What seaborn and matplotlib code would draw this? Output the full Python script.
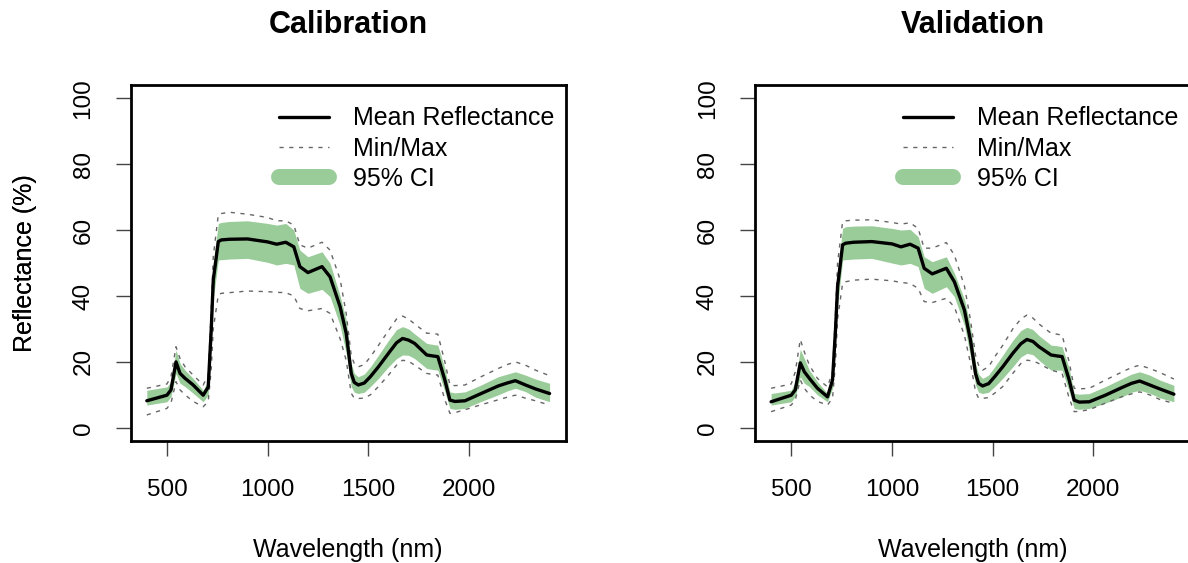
import matplotlib
matplotlib.use("Agg")
import matplotlib.pyplot as plt
from matplotlib.lines import Line2D
import pandas as pd
import seaborn as sns

# Wavelength grid shared by both spectra (nm)
wavelength = [400, 500, 520, 545, 565, 590, 630, 680, 705, 720, 730, 755, 770, 810, 900,
              1000, 1045, 1090, 1130, 1160, 1200, 1270, 1310, 1360, 1390, 1415, 1430, 1450,
              1480, 1510, 1550, 1600, 1640, 1670, 1700, 1730, 1790, 1820, 1845, 1880, 1905,
              1930, 1980, 2060, 2145, 2190, 2230, 2280, 2330, 2400]

# Calibration set (%)
cal_mean = [8.2, 9.9, 11.5, 20.0, 16.5, 15.0, 13.0, 9.9, 12.4, 30.0, 44.8, 56.5, 57.0, 57.2, 57.3,
            56.4, 55.7, 56.3, 54.9, 48.9, 47.1, 48.9, 45.8, 36.7, 28.7, 16.5, 13.8, 13.0,
            13.6, 15.5, 18.5, 22.6, 25.8, 27.1, 26.6, 25.6, 22.1, 21.8, 21.6, 14.5, 8.4,
            8.0, 8.2, 10.4, 12.7, 13.6, 14.3, 13.0, 11.8, 10.4]
cal_ci_hi = [11.4, 12.4, 14.0, 23.6, 19.5, 17.5, 15.0, 11.4, 14.5, 35.0, 50.0, 62.0, 62.3, 62.6, 62.8,
             62.0, 61.5, 62.0, 60.0, 53.9, 51.9, 53.4, 49.9, 40.0, 32.7, 19.5, 16.5, 15.5,
             16.3, 18.5, 22.0, 26.5, 29.8, 30.7, 30.0, 28.5, 25.6, 25.3, 25.1, 18.0, 10.9,
             10.6, 10.9, 13.0, 15.5, 16.3, 17.0, 16.0, 14.8, 13.5]
cal_ci_lo = [6.9, 7.9, 9.5, 16.5, 13.5, 12.5, 10.5, 7.9, 10.0, 25.0, 39.0, 50.9, 51.0, 51.2, 51.4,
             50.2, 49.4, 49.9, 49.4, 42.3, 40.8, 42.0, 39.8, 31.0, 22.6, 12.5, 10.8, 10.4,
             10.8, 12.5, 15.0, 18.5, 21.0, 22.1, 22.0, 21.0, 18.0, 17.7, 17.5, 11.0, 5.9,
             5.6, 5.9, 8.0, 10.0, 11.2, 12.0, 11.0, 9.3, 7.9]
cal_max = [12.0, 13.3, 15.5, 24.6, 21.0, 18.5, 16.0, 13.0, 16.0, 36.0, 52.0, 64.6, 65.0, 65.4, 64.8,
           63.8, 62.8, 62.8, 61.5, 55.5, 54.5, 56.3, 53.9, 45.0, 34.7, 22.0, 19.5, 18.5,
           19.2, 21.5, 25.0, 29.5, 33.0, 33.9, 33.0, 31.5, 28.7, 28.6, 28.4, 20.0, 13.0,
           12.8, 13.0, 15.5, 18.0, 19.2, 20.0, 19.0, 17.5, 15.8]
cal_min = [3.9, 5.9, 7.5, 14.0, 11.5, 10.0, 8.0, 6.4, 8.0, 18.0, 30.0, 40.3, 40.8, 41.0, 41.5,
           41.3, 41.1, 41.0, 40.0, 36.2, 35.5, 36.2, 34.7, 27.0, 20.5, 10.5, 9.0, 8.9,
           9.0, 10.0, 12.5, 16.0, 19.0, 20.5, 20.2, 19.0, 16.5, 16.2, 16.0, 8.5, 4.4,
           4.6, 5.5, 7.0, 8.5, 9.3, 9.9, 9.0, 8.2, 6.9]

# Validation set (%)
val_mean = [7.9, 9.9, 11.5, 19.7, 17.0, 15.0, 12.0, 9.4, 14.5, 30.0, 42.8, 55.5, 56.0, 56.3, 56.5,
            55.8, 54.9, 55.7, 54.5, 48.4, 46.7, 48.4, 44.3, 35.7, 26.6, 16.5, 13.5, 12.7,
            13.4, 15.5, 18.5, 22.6, 25.5, 26.8, 26.2, 24.6, 22.1, 21.8, 21.6, 14.5, 8.4,
            7.8, 7.9, 9.9, 12.3, 13.5, 14.2, 13.0, 11.8, 10.2]
val_ci_hi = [10.4, 11.4, 14.0, 23.8, 21.0, 17.5, 14.0, 10.4, 16.0, 34.0, 48.0, 60.5, 61.0, 61.2, 61.3,
             60.5, 60.0, 60.2, 58.0, 51.9, 50.4, 51.9, 46.9, 39.0, 30.7, 19.5, 16.3, 15.0,
             16.0, 18.5, 22.0, 26.5, 29.5, 30.5, 29.8, 28.0, 25.1, 24.9, 24.6, 18.0, 10.4,
             10.2, 10.4, 12.5, 15.0, 16.3, 17.0, 16.0, 14.5, 12.9]
val_ci_lo = [6.9, 7.9, 9.5, 15.5, 13.5, 12.5, 10.0, 7.9, 12.0, 25.0, 37.0, 50.9, 51.0, 51.2, 51.4,
             50.0, 49.4, 49.9, 48.9, 42.3, 40.8, 42.8, 39.8, 31.0, 21.6, 13.0, 10.8, 10.4,
             10.8, 12.5, 15.0, 18.5, 21.5, 22.6, 22.2, 20.5, 17.5, 17.5, 17.5, 11.0, 5.9,
             5.6, 5.9, 7.5, 9.5, 10.8, 11.4, 10.5, 9.1, 7.9]
val_max = [12.0, 13.3, 17.0, 26.8, 23.0, 19.0, 15.0, 12.4, 17.0, 35.0, 50.0, 62.5, 62.8, 63.0, 63.1,
           62.3, 61.8, 62.2, 60.5, 54.5, 54.5, 56.2, 52.4, 43.0, 32.7, 22.0, 19.0, 17.5,
           18.5, 21.5, 25.0, 30.0, 33.0, 34.2, 33.3, 31.5, 28.7, 28.4, 28.1, 20.0, 12.0,
           11.8, 12.0, 14.5, 17.0, 18.3, 19.0, 18.0, 16.8, 14.8]
val_min = [4.9, 6.9, 8.5, 14.5, 12.0, 10.0, 8.0, 6.9, 9.0, 20.0, 33.0, 43.8, 44.3, 44.8, 45.1,
           44.6, 44.1, 43.8, 42.3, 38.3, 38.0, 39.3, 36.7, 28.0, 19.6, 11.0, 9.0, 8.9,
           9.2, 10.5, 12.5, 16.5, 19.5, 20.5, 20.3, 19.5, 17.5, 17.0, 16.5, 9.0, 4.9,
           5.0, 5.5, 7.5, 9.5, 10.3, 10.9, 10.0, 8.6, 7.4]

panels = [
    ("Calibration", cal_mean, cal_ci_lo, cal_ci_hi, cal_min, cal_max),
    ("Validation", val_mean, val_ci_lo, val_ci_hi, val_min, val_max),
]

x_ticks = [500, 1000, 1500, 2000]
y_ticks = [0, 20, 40, 60, 80, 100]

sns.set_style("white")
plt.rcParams["font.family"] = ["Liberation Sans", "DejaVu Sans"]
plt.rcParams["text.color"] = "black"
plt.rcParams["axes.labelcolor"] = "black"

CI_GREEN = "#99cc99"
DASH_GREY = "#666666"
DASH = (0, (3, 4))

W, H, DPI = 1188, 563, 100
fig = plt.figure(figsize=(W / DPI, H / DPI), dpi=DPI)

# axes boxes in pixels: (left, top, right, bottom)
boxes = [(130.7, 85, 565.7, 441), (755, 85, 1190, 441)]

for (title, mean, lo, hi, mn, mx), (l, t, r, b) in zip(panels, boxes):
    ax = fig.add_axes([l / W, 1 - b / H, (r - l) / W, (b - t) / H])
    df = pd.DataFrame({"wavelength": wavelength, "mean": mean, "lo": lo, "hi": hi,
                       "min": mn, "max": mx})

    ax.fill_between(df["wavelength"], df["lo"], df["hi"], color=CI_GREEN, lw=0, zorder=1)
    sns.lineplot(data=df, x="wavelength", y="max", ax=ax, color=DASH_GREY, lw=1.0,
                 linestyle=DASH, zorder=2)
    sns.lineplot(data=df, x="wavelength", y="min", ax=ax, color=DASH_GREY, lw=1.0,
                 linestyle=DASH, zorder=2)
    sns.lineplot(data=df, x="wavelength", y="mean", ax=ax, color="black", lw=2.4,
                 solid_joinstyle="round", zorder=3)

    ax.set_xlim(320, 2480)
    ax.set_ylim(-4, 104)
    ax.set_xticks(x_ticks)
    ax.set_yticks(y_ticks)
    ax.set_xticklabels([str(v) for v in x_ticks])
    ax.set_yticklabels([str(v) for v in y_ticks], rotation=90, va="center")

    for s in ax.spines.values():
        s.set_visible(True)
        s.set_color("black")
        s.set_linewidth(2.0)

    ax.tick_params(axis="both", which="major", direction="out", length=11, width=1.0,
                   color="#444444", labelsize=17.5, labelcolor="black",
                   bottom=True, left=True)
    ax.tick_params(axis="x", pad=16)
    ax.tick_params(axis="y", pad=15)

    ax.set_xlabel("Wavelength (nm)", fontsize=18, va="center")
    ax.set_ylabel("Reflectance (%)", fontsize=18, va="center")
    ax.xaxis.set_label_coords(0.5, (b - 550) / (b - t))
    ax.yaxis.set_label_coords((25 - l) / (r - l), 0.5)

    ax.set_title(title, fontsize=22, fontweight="bold", pad=0, y=(b - 25) / (b - t), va="center")

    handles = [
        Line2D([], [], color="black", lw=2.4),
        Line2D([], [], color=DASH_GREY, lw=1.0, linestyle=DASH),
        Line2D([], [], color=CI_GREEN, lw=11.5, solid_capstyle="round"),
    ]
    ax.legend(handles, ["Mean Reflectance", "Min/Max", "95% CI"], loc="upper left",
              bbox_to_anchor=(0.341, 0.94), frameon=False, fontsize=18,
              handlelength=2.0, handletextpad=0.95, labelspacing=0.25,
              borderpad=0, borderaxespad=0)

fig.savefig("out.png", dpi=DPI)
